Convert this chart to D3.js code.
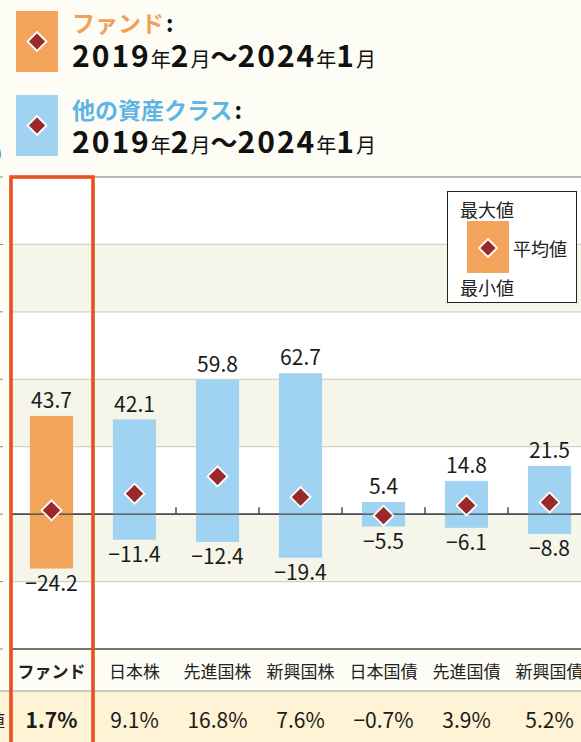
<!DOCTYPE html>
<html lang="ja">
<head>
<meta charset="UTF-8">
<title>ファンドと他の資産クラスの騰落率</title>
<script src="https://cdn.jsdelivr.net/npm/d3@7/dist/d3.min.js"></script>
<style>
body { margin:0; background:#fdfdf6; }
svg text { font-family: "Noto Sans CJK JP", "Noto Sans", sans-serif; }
</style>
</head>
<body>
<script>

// data (%)
var categories = ["ファンド", "日本株", "先進国株", "新興国株", "日本国債", "先進国債", "新興国債"];
var maxValues = [43.7, 42.1, 59.8, 62.7, 5.4, 14.8, 21.5];
var minValues = [-24.2, -11.4, -12.4, -19.4, -5.5, -6.1, -8.8];
var avgValues = [1.7, 9.1, 16.8, 7.6, -0.7, 3.9, 5.2];
var yTicks = [-60, -30, 0, 30, 60, 90, 120, 150];
var periodText = ["2019", "年", "2", "月", "～", "2024", "年", "1", "月"];
var legendTitles = ["ファンド", "他の資産クラス"];
var legendLabels = ["最大値", "平均値", "最小値"];

var W = 581, H = 742;
var orange = "#f2a45b", blue = "#a0d3f1", diamondRed = "#9a2a2a", hiRed = "#e9501f";
var plot = { left: 10, top: 177, bottom: 649 };

var svg = d3.select("body").append("svg")
  .attr("width", W).attr("height", H);

svg.append("rect").attr("width", W).attr("height", H).attr("fill", "#fdfdf6");

function fmt(v) { return v.toFixed(1).replace("-", "\u2212"); }

function diamond(g, cx, cy, r) {
  g.append("path")
    .attr("d", "M" + cx + "," + (cy - r) + "L" + (cx + r) + "," + cy + "L" + cx + "," + (cy + r) + "L" + (cx - r) + "," + cy + "Z")
    .attr("fill", diamondRed)
    .attr("stroke", "#fff")
    .attr("stroke-width", 1.8);
}

// header legend
var head = svg.append("g");
var titleY = [22, 109], dateY = [67, 153];
[orange, blue].forEach(function (c, i) {
  var y0 = 11 + i * 84;
  head.append("rect").attr("x", 16).attr("y", y0).attr("width", 42).attr("height", 61).attr("fill", c);
  diamond(head, 37, y0 + 30.5, 9.5);
  var t = head.append("text").attr("x", 72).attr("y", titleY[i]).attr("dominant-baseline", "central")
    .attr("font-size", 23).attr("font-weight", 700);
  t.append("tspan").attr("fill", i === 0 ? "#f2a055" : "#5cb5e6").text(legendTitles[i]);
  t.append("tspan").attr("fill", "#111").attr("dx", 2).text(":");

  var d = head.append("text").attr("x", 72).attr("y", dateY[i]).attr("fill", "#111");
  periodText.forEach(function (s) {
    var big = /\d/.test(s);
    d.append("tspan").attr("font-size", big ? 30 : (s === "～" ? 27 : 20))
      .attr("font-weight", big || s === "～" ? 700 : 400)
      .attr("letter-spacing", big ? 2 : 0)
      .text(s);
  });
});
// clipped unit label at far left
head.append("text").attr("x", 2).attr("y", 152).attr("dominant-baseline", "central")
  .attr("text-anchor", "end").attr("font-size", 16).attr("fill", "#222").text("(%)");

// scales
var x = d3.scaleBand().domain(categories).range([plot.left, plot.left + 83 * categories.length]).padding(0);
var y = d3.scaleLinear().domain([-60, 150]).range([plot.bottom, plot.top]);
var bw = x.bandwidth();

// plot background bands
var chart = svg.append("g");
chart.append("rect").attr("x", plot.left).attr("y", plot.top).attr("width", W - plot.left)
  .attr("height", plot.bottom - plot.top).attr("fill", "#fff");
chart.selectAll(".band").data(d3.pairs(yTicks)).enter().append("rect")
  .attr("x", plot.left).attr("width", W - plot.left)
  .attr("y", function (d) { return y(d[1]); })
  .attr("height", function (d) { return y(d[0]) - y(d[1]); })
  .attr("fill", function (d, i) { return i % 2 === 1 ? "#f5f5ea" : "#fff"; });

// gridlines
chart.selectAll(".grid").data(yTicks).enter().append("line")
  .attr("x1", plot.left).attr("x2", W)
  .attr("y1", function (d) { return y(d); }).attr("y2", function (d) { return y(d); })
  .attr("stroke", function (d) { return d === 0 || d === -60 ? "#444" : (d === 150 ? "#777" : "#d2d2cc"); })
  .attr("stroke-width", function (d) { return d === 0 || d === -60 ? 1.3 : 1.2; });

// tick marks at far left
chart.selectAll(".ytick").data(yTicks).enter().append("line")
  .attr("x1", 0).attr("x2", 3)
  .attr("y1", function (d) { return y(d); }).attr("y2", function (d) { return y(d); })
  .attr("stroke", "#888");

// small ticks between categories on the zero line
chart.selectAll(".xtick").data(categories.slice(1)).enter().append("line")
  .attr("x1", function (d) { return x(d); }).attr("x2", function (d) { return x(d); })
  .attr("y1", y(0) - 7).attr("y2", y(0))
  .attr("stroke", "#333").attr("stroke-width", 1.3);

// range bars
var idx = d3.range(categories.length);
chart.selectAll(".bar").data(idx).enter().append("rect")
  .attr("x", function (i) { return x(categories[i]) + bw * 0.24; })
  .attr("width", bw * 0.52)
  .attr("y", function (i) { return y(maxValues[i]); })
  .attr("height", function (i) { return y(minValues[i]) - y(maxValues[i]); })
  .attr("fill", function (i) { return i === 0 ? orange : blue; });

// redraw zero line over bars
chart.append("line").attr("x1", plot.left).attr("x2", W).attr("y1", y(0)).attr("y2", y(0))
  .attr("stroke", "#444").attr("stroke-width", 1.3);

idx.forEach(function (i) {
  diamond(chart, x(categories[i]) + bw / 2, y(avgValues[i]), 10);
});

chart.selectAll(".maxlab").data(idx).enter().append("text")
  .attr("x", function (i) { return x(categories[i]) + bw / 2; })
  .attr("y", function (i) { return y(maxValues[i]) - 8; })
  .attr("text-anchor", "middle").attr("font-size", 21).attr("fill", "#1a1a1a")
  .text(function (i) { return fmt(maxValues[i]); });

chart.selectAll(".minlab").data(idx).enter().append("text")
  .attr("x", function (i) { return x(categories[i]) + bw / 2; })
  .attr("y", function (i) { return y(minValues[i]) + 22; })
  .attr("text-anchor", "middle").attr("font-size", 21).attr("fill", "#1a1a1a")
  .text(function (i) { return fmt(minValues[i]); });

// table rows below the chart
var rowTop = 691;
svg.append("rect").attr("x", 0).attr("y", rowTop).attr("width", W).attr("height", H - rowTop).attr("fill", "#fef3d4");
svg.append("line").attr("x1", 0).attr("x2", W).attr("y1", rowTop).attr("y2", rowTop).attr("stroke", "#999").attr("stroke-width", 1);

svg.selectAll(".cat").data(idx).enter().append("text")
  .attr("x", function (i) { return x(categories[i]) + bw / 2; })
  .attr("y", 670).attr("dominant-baseline", "central")
  .attr("text-anchor", "middle").attr("font-size", 17).attr("fill", "#222")
  .attr("font-weight", function (i) { return i === 0 ? 700 : 400; })
  .text(function (i) { return categories[i]; });

svg.selectAll(".avg").data(idx).enter().append("text")
  .attr("x", function (i) { return x(categories[i]) + bw / 2; })
  .attr("y", 719).attr("dominant-baseline", "central")
  .attr("text-anchor", "middle").attr("font-size", 21).attr("fill", "#1a1a1a")
  .attr("font-weight", function (i) { return i === 0 ? 700 : 400; })
  .text(function (i) { return fmt(avgValues[i]) + "%"; });

svg.append("text").attr("x", 5).attr("y", 719).attr("dominant-baseline", "central")
  .attr("text-anchor", "end").attr("font-size", 17).attr("fill", "#222").text("平均値");

// highlight frame around the fund column
svg.append("rect").attr("x", 11).attr("y", 177).attr("width", 82).attr("height", 600)
  .attr("fill", "none").attr("stroke", hiRed).attr("stroke-width", 3.6);

// explanatory legend box
var lg = svg.append("g");
lg.append("rect").attr("x", 447.5).attr("y", 191.5).attr("width", 129).attr("height", 111)
  .attr("fill", "#fff").attr("stroke", "#222").attr("stroke-width", 1);
lg.append("rect").attr("x", 467).attr("y", 221).attr("width", 42).attr("height", 52).attr("fill", orange);
diamond(lg, 488, 248, 9);
[[460, 209], [513, 248], [460, 287]].forEach(function (p, i) {
  lg.append("text").attr("x", p[0]).attr("y", p[1]).attr("dominant-baseline", "central")
    .attr("font-size", 18).attr("fill", "#222").text(legendLabels[i]);
});

</script>
</body>
</html>
